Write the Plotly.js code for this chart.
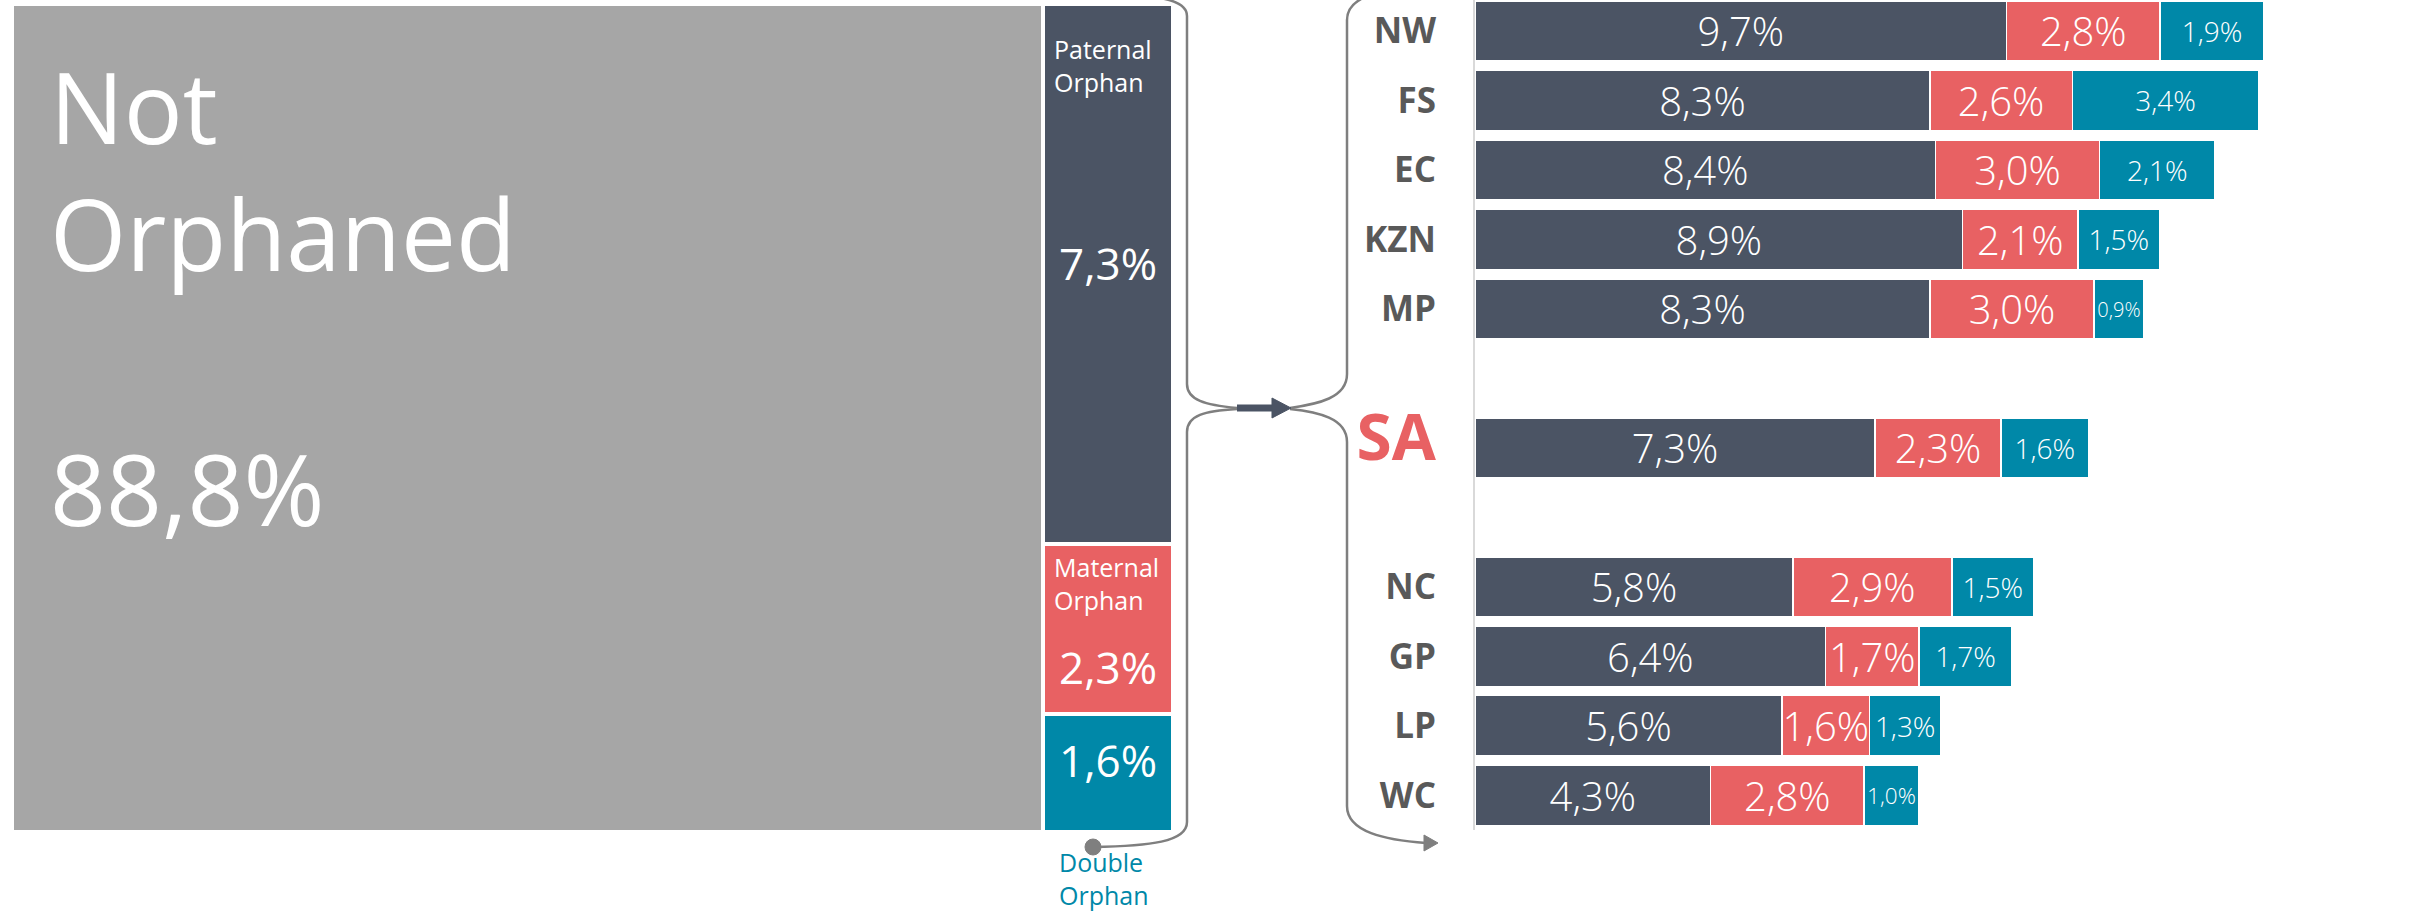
<!DOCTYPE html>
<html>
<head>
<meta charset="utf-8">
<script src="https://cdn.plot.ly/plotly-3.0.1.min.js"></script>
<style>
  html, body { margin: 0; padding: 0; background: #ffffff; }
  #chart { width: 2412px; height: 913px; }
</style>
</head>
<body>
<div id="chart"></div>
<script>
// ---------- data ----------
const overallLabels = ['Not Orphaned', 'Paternal Orphan', 'Maternal Orphan', 'Double Orphan'];
const overallValues = [88.8, 7.3, 2.3, 1.6];

const provinces = ['NW', 'FS', 'EC', 'KZN', 'MP', 'SA', 'NC', 'GP', 'LP', 'WC'];
const paternal  = [9.7, 8.3, 8.4, 8.9, 8.3, 7.3, 5.8, 6.4, 5.6, 4.3];
const maternal  = [2.8, 2.6, 3.0, 2.1, 3.0, 2.3, 2.9, 1.7, 1.6, 2.8];
const doubleOr  = [1.9, 3.4, 2.1, 1.5, 0.9, 1.6, 1.5, 1.7, 1.3, 1.0];

// ---------- styling ----------
const W = 2412, H = 913;
const FONT = 'Open Sans, Noto Sans, sans-serif';
const C_GRAY = '#A6A6A6', C_DARK = '#4B5464', C_RED = '#E86163', C_TEAL = '#0088A8';
const C_LINE = '#7F7F7F', C_LABEL = '#595959';

const fmt = v => v.toFixed(1).replace('.', ',') + '%';

// ---------- left mosaic (y axis reversed: stacks grow downward) ----------
const notOrph = overallValues[0];
const orphVals = overallValues.slice(1);
const orphTotal = orphVals.reduce((a, b) => a + b, 0);
const orphNorm = orphVals.map(v => v / orphTotal * 100);
const colX = notOrph + orphTotal / 2;

const traces = [];
traces.push({
  type: 'bar', x: [notOrph / 2], y: [100], width: [notOrph],
  marker: { color: C_GRAY, line: { color: '#ffffff', width: 4 } },
  xaxis: 'x', yaxis: 'y', hoverinfo: 'skip', showlegend: false
});
const orphColors = [C_DARK, C_RED, C_TEAL];
orphNorm.forEach((v, i) => {
  traces.push({
    type: 'bar', x: [colX], y: [v], width: [orphTotal],
    marker: { color: orphColors[i], line: { color: '#ffffff', width: 4 } },
    xaxis: 'x', yaxis: 'y', hoverinfo: 'skip', showlegend: false
  });
});

// ---------- right stacked bars ----------
const half = 5;
const categoryOrder = provinces.slice(0, half).concat([' ', provinces[half], '  '], provinces.slice(half + 1));

const rightSeries = [
  { vals: paternal, color: C_DARK, size: 40, constrain: 'none' },
  { vals: maternal, color: C_RED, size: 40, constrain: 'none' },
  { vals: doubleOr, color: C_TEAL, size: 28, constrain: 'both' }
];
rightSeries.forEach(s => {
  traces.push({
    type: 'bar', orientation: 'h', y: provinces, x: s.vals, width: 0.865,
    marker: { color: s.color, line: { color: '#ffffff', width: 1.5 } },
    text: s.vals.map(fmt), textposition: 'inside', insidetextanchor: 'middle',
    textangle: 0, constraintext: s.constrain,
    insidetextfont: { family: FONT, size: s.size, color: '#ffffff', weight: 300 },
    xaxis: 'x2', yaxis: 'y2', hoverinfo: 'skip', showlegend: false
  });
});

// ---------- annotations (left) ----------
const pBot = orphNorm[0];
const mBot = pBot + orphNorm[1];
const annFont = (size, color, weight) => ({ family: FONT, size: size, color: color || '#ffffff', weight: weight || 400 });
const annotations = [
  { xref: 'x', yref: 'y', x: 0, y: 0, xanchor: 'left', yanchor: 'top', xshift: 36, yshift: -33,
    align: 'left', showarrow: false,
    text: 'Not<br>Orphaned<br><br>' + fmt(overallValues[0]), font: annFont(98) },
  { xref: 'x', yref: 'y', x: notOrph, y: 0, xanchor: 'left', yanchor: 'top', xshift: 9, yshift: -26,
    align: 'left', showarrow: false, text: 'Paternal<br>Orphan', font: annFont(25) },
  { xref: 'x', yref: 'y', x: colX, y: pBot / 2, xanchor: 'center', yanchor: 'middle', yshift: 11,
    showarrow: false, text: fmt(overallValues[1]), font: annFont(44) },
  { xref: 'x', yref: 'y', x: notOrph, y: pBot, xanchor: 'left', yanchor: 'top', xshift: 9, yshift: -4,
    align: 'left', showarrow: false, text: 'Maternal<br>Orphan', font: annFont(25) },
  { xref: 'x', yref: 'y', x: colX, y: (pBot + mBot) / 2, xanchor: 'center', yanchor: 'middle', yshift: -38,
    showarrow: false, text: fmt(overallValues[2]), font: annFont(44) },
  { xref: 'x', yref: 'y', x: colX, y: (mBot + 100) / 2, xanchor: 'center', yanchor: 'middle', yshift: 13,
    showarrow: false, text: fmt(overallValues[3]), font: annFont(44) },
  { xref: 'x', yref: 'y', x: notOrph, y: 100, xanchor: 'left', yanchor: 'top', xshift: 14, yshift: -11,
    align: 'left', showarrow: false, text: 'Double<br>Orphan', font: annFont(25, C_TEAL) }
];

// ---------- connector shapes (pixel -> paper) ----------
const X = px => px / W;
const Y = py => 1 - py / H;
const pt = p => X(p[0]).toFixed(5) + ',' + Y(p[1]).toFixed(5);
const M = p => 'M' + pt(p);
const L = p => 'L' + pt(p);
const C = (a, b, c) => 'C' + pt(a) + ' ' + pt(b) + ' ' + pt(c);
const pathShape = (d, color, width, fill) => ({
  type: 'path', xref: 'paper', yref: 'paper', path: d,
  line: { color: color, width: width }, fillcolor: fill || 'rgba(0,0,0,0)', layer: 'above'
});

const shapes = [];
// left brace (upper)
shapes.push(pathShape(
  M([1093, -6]) + ' ' + C([1155, -5], [1187, -2], [1187, 16]) + ' ' +
  L([1187, 384]) + ' ' + C([1187, 400], [1205, 405], [1237, 408]), C_LINE, 2.5));
// left brace (lower)
shapes.push(pathShape(
  M([1237, 409]) + ' ' + C([1205, 411], [1187, 415], [1187, 432]) + ' ' +
  L([1187, 822]) + ' ' + C([1187, 842], [1150, 846], [1093, 847]), C_LINE, 2.5));
// dot
shapes.push({ type: 'circle', xref: 'paper', yref: 'paper',
  x0: X(1085), x1: X(1101), y0: Y(855), y1: Y(839), fillcolor: C_LINE, line: { color: C_LINE, width: 1 }, layer: 'above' });
// right brace (upper)
shapes.push(pathShape(
  M([1440, -14]) + ' ' + C([1380, -12], [1347, -4], [1347, 20]) + ' ' +
  L([1347, 374]) + ' ' + C([1347, 398], [1318, 404], [1290, 408]), C_LINE, 2.5));
// right brace (lower)
shapes.push(pathShape(
  M([1290, 409]) + ' ' + C([1318, 412], [1347, 418], [1347, 442]) + ' ' +
  L([1347, 806]) + ' ' + C([1347, 832], [1385, 840], [1426, 843]), C_LINE, 2.5));
// bottom gray arrowhead
shapes.push(pathShape(M([1424, 835]) + ' ' + L([1438, 843]) + ' ' + L([1424, 851]) + ' Z', C_LINE, 1, C_LINE));
// middle dark arrow
shapes.push(pathShape(M([1237, 408]) + ' ' + L([1276, 408]), C_DARK, 7));
shapes.push(pathShape(M([1272, 398]) + ' ' + L([1291, 408]) + ' ' + L([1272, 418]) + ' Z', C_DARK, 1, C_DARK));

// ---------- y tick labels for right chart ----------
const tickText = categoryOrder.map(c => c === provinces[half]
  ? '<span style="font-size:64px;color:' + C_RED + '">' + c + '</span>' : c);

const layout = {
  width: W, height: H,
  margin: { l: 0, r: 0, t: 0, b: 0, pad: 0 },
  paper_bgcolor: '#ffffff', plot_bgcolor: 'rgba(0,0,0,0)',
  barmode: 'stack', showlegend: false,
  font: { family: FONT },
  xaxis: { domain: [12 / W, 1173 / W], range: [0, 100], visible: false, fixedrange: true },
  yaxis: { domain: [1 - 832 / H, 1 - 4 / H], range: [100, 0], visible: false, fixedrange: true },
  xaxis2: { domain: [1475 / W, 1], range: [0, (W - 1475) / 54.8], visible: false, anchor: 'y2', fixedrange: true },
  yaxis2: {
    domain: [1 - 830 / H, 1], anchor: 'x2', type: 'category',
    categoryorder: 'array', categoryarray: categoryOrder,
    range: [11.5, -0.446],
    tickmode: 'array', tickvals: categoryOrder, ticktext: tickText,
    showline: true, linecolor: '#D9D9D9', linewidth: 2,
    showgrid: false, zeroline: false, ticks: '', ticklabelstandoff: 30,
    tickfont: { family: FONT, size: 35, color: C_LABEL, weight: 'bold' },
    fixedrange: true
  },
  annotations: annotations,
  shapes: shapes
};

Plotly.newPlot('chart', traces, layout, { displayModeBar: false, staticPlot: true });
</script>
</body>
</html>
